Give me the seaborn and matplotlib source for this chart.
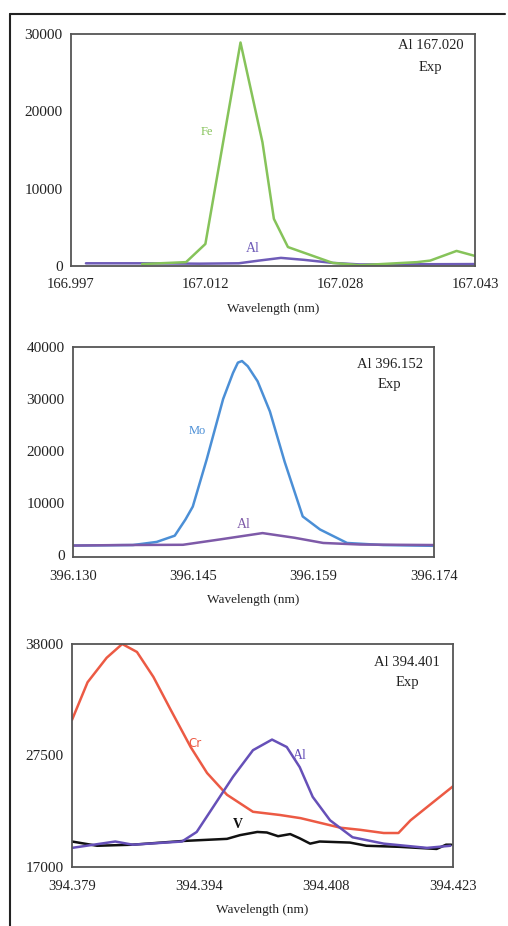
import numpy as np
import pandas as pd
import matplotlib
matplotlib.use("Agg")
import matplotlib.pyplot as plt
from matplotlib.lines import Line2D
import seaborn as sns

# ---------------- data ----------------
# Panel 1: Al 167.020
p1_fe_wl = [167.0051, 167.0101, 167.0123, 167.0163, 167.0188, 167.0201, 167.0217,
            167.0268, 167.0299, 167.0364, 167.0379, 167.0409, 167.0430]
p1_fe_int = [250, 500, 2850, 28900, 16000, 6100, 2450, 400, 100, 500, 700, 1950, 1300]
p1_al_wl = [166.9987, 167.0051, 167.0116, 167.0161, 167.0184, 167.0209, 167.0235,
            167.0268, 167.0299, 167.0430]
p1_al_int = [350, 350, 300, 350, 700, 1050, 800, 400, 200, 250]
p1_ticks = ["166.997", "167.012", "167.028", "167.043"]
p1_yticks = [0, 10000, 20000, 30000]

# Panel 2: Al 396.152
p2_mo_wl = [396.1300, 396.1373, 396.1402, 396.1424, 396.1437, 396.1446, 396.1463,
            396.1483, 396.1495, 396.1501, 396.1506, 396.1513, 396.1525, 396.1540,
            396.1558, 396.1580, 396.1601, 396.1634, 396.1678, 396.1740]
p2_mo_int = [1800, 1900, 2500, 3700, 6800, 9300, 18400, 30000, 35000, 37000, 37300,
             36300, 33400, 27600, 17900, 7400, 4900, 2300, 1900, 1750]
p2_al_wl = [396.1300, 396.1360, 396.1434, 396.1480, 396.1531, 396.1570, 396.1605,
            396.1650, 396.1740]
p2_al_int = [1800, 1900, 1950, 3000, 4200, 3300, 2300, 2000, 1900]
p2_ticks = ["396.130", "396.145", "396.159", "396.174"]
p2_yticks = [0, 10000, 20000, 30000, 40000]

# Panel 3: Al 394.401
p3_cr_wl = [394.3790, 394.3808, 394.3830, 394.3848, 394.3865, 394.3884, 394.3904,
            394.3927, 394.3946, 394.3969, 394.3999, 394.4030, 394.4054, 394.4077,
            394.4100, 394.4123, 394.4150, 394.4167, 394.4181, 394.4207, 394.4230]
p3_cr_int = [30850, 34400, 36700, 38000, 37250, 34900, 31800, 28300, 25850, 23800,
             22200, 21900, 21600, 21150, 20700, 20500, 20200, 20200, 21400, 23100, 24600]
p3_al_wl = [394.3790, 394.3840, 394.3860, 394.3917, 394.3934, 394.3953, 394.3976,
            394.3999, 394.4021, 394.4038, 394.4053, 394.4068, 394.4088, 394.4114,
            394.4150, 394.4200, 394.4227]
p3_al_int = [18800, 19400, 19100, 19400, 20300, 22650, 25500, 28000, 29000, 28300,
             26400, 23600, 21400, 19800, 19200, 18800, 19000]
p3_v_wl = [394.3790, 394.3819, 394.3860, 394.3918, 394.3969, 394.3984, 394.4004,
           394.4015, 394.4028, 394.4042, 394.4053, 394.4065, 394.4076, 394.4111,
           394.4130, 394.4168, 394.4211, 394.4222, 394.4228]
p3_v_int = [19400, 19000, 19100, 19450, 19650, 20000, 20300, 20250, 19900, 20100,
            19700, 19200, 19400, 19300, 19000, 18900, 18700, 19100, 19100]
p3_ticks = ["394.379", "394.394", "394.408", "394.423"]
p3_yticks = [17000, 27500, 38000]

# ---------------- style ----------------
sns.set_style("white")
plt.rcParams["font.family"] = ["Liberation Serif", "DejaVu Serif"]

W, H = 508, 926
fig = plt.figure(figsize=(W / 100, H / 100), dpi=100)
fig.patch.set_facecolor("white")


def make_ax(l, r, t, b):
    return fig.add_axes([l / W, 1 - b / H, (r - l) / W, (b - t) / H])


def style_ax(ax, ticks, xlim, ylim, yticks):
    ax.set_xlim(*xlim)
    ax.set_ylim(*ylim)
    ax.set_xticks(np.linspace(xlim[0], xlim[1], len(ticks)))
    ax.set_xticklabels(ticks)
    ax.set_yticks(yticks)
    ax.set_yticklabels([str(v) for v in yticks])
    for s in ax.spines.values():
        s.set_color("#555555")
        s.set_linewidth(1.3)
    ax.tick_params(axis="both", direction="out", length=5, width=1.3,
                   color="#222222", labelcolor="#222222")
    ax.tick_params(axis="x", labelsize=10.5, pad=4)
    ax.tick_params(axis="y", labelsize=11, pad=1)
    ax.set_xlabel("Wavelength (nm)", fontsize=9.5, color="#222222", labelpad=8)
    ax.set_ylabel("")


GREEN = "#86c35a"
PURPLE1 = "#6f5cb8"
BLUE = "#4b8fd6"
PURPLE2 = "#7e5aa8"
RED = "#ec5a44"
PURPLE3 = "#6650b8"
BLACK = "#111111"
LW = 1.8

# Panel 1
ax1 = make_ax(71, 475, 34, 266)
sns.lineplot(x=p1_al_wl, y=p1_al_int, ax=ax1, color=PURPLE1, lw=LW, sort=False)
sns.lineplot(x=p1_fe_wl, y=p1_fe_int, ax=ax1, color=GREEN, lw=LW, sort=False)
style_ax(ax1, p1_ticks, (166.997, 167.043), (0, 30000), p1_yticks)
ax1.text(167.0125, 17300, "Fe", color=GREEN, fontsize=9, ha="center", va="center")
ax1.text(167.0177, 2300, "Al", color=PURPLE1, fontsize=10, ha="center", va="center")
ax1.text(0.89, 0.903, "Al 167.020\nExp", transform=ax1.transAxes, fontsize=10.5,
         ha="center", va="center", linespacing=1.9, color="#222222")

# Panel 2
ax2 = make_ax(73, 434, 347, 557)
sns.lineplot(x=p2_mo_wl, y=p2_mo_int, ax=ax2, color=BLUE, lw=LW, sort=False)
sns.lineplot(x=p2_al_wl, y=p2_al_int, ax=ax2, color=PURPLE2, lw=LW, sort=False)
style_ax(ax2, p2_ticks, (396.130, 396.174), (-400, 40000), p2_yticks)
ax2.text(396.1451, 23800, "Mo", color=BLUE, fontsize=9, ha="center", va="center")
ax2.text(396.1508, 5900, "Al", color=PURPLE2, fontsize=10, ha="center", va="center")
ax2.text(0.877, 0.87, "Al 396.152\nExp", transform=ax2.transAxes, fontsize=10.5,
         ha="center", va="center", linespacing=1.7, color="#222222")

# Panel 3
ax3 = make_ax(72, 453, 644, 867)
sns.lineplot(x=p3_v_wl, y=p3_v_int, ax=ax3, color=BLACK, lw=LW, sort=False)
sns.lineplot(x=p3_cr_wl, y=p3_cr_int, ax=ax3, color=RED, lw=LW, sort=False)
sns.lineplot(x=p3_al_wl, y=p3_al_int, ax=ax3, color=PURPLE3, lw=LW, sort=False)
style_ax(ax3, p3_ticks, (394.379, 394.423), (17000, 38000), p3_yticks)
ax3.text(394.3932, 28600, "Cr", color=RED, fontsize=8.5, ha="center", va="center",
         family=["DejaVu Sans"])
ax3.text(394.4053, 27500, "Al", color=PURPLE3, fontsize=10, ha="center", va="center")
ax3.text(394.3982, 21000, "V", color=BLACK, fontsize=10, ha="center", va="center",
         fontweight="bold")
ax3.text(0.88, 0.87, "Al 394.401\nExp", transform=ax3.transAxes, fontsize=10.5,
         ha="center", va="center", linespacing=1.7, color="#222222")

# outer frame lines (left and top)
fig.add_artist(Line2D([10 / W, 10 / W], [0, 1 - 14 / H], transform=fig.transFigure,
                      color="#222222", lw=1.5))
fig.add_artist(Line2D([10 / W, 505 / W], [1 - 14 / H, 1 - 14 / H], transform=fig.transFigure,
                      color="#222222", lw=1.5))

fig.savefig("out.png", dpi=100, facecolor="white")
